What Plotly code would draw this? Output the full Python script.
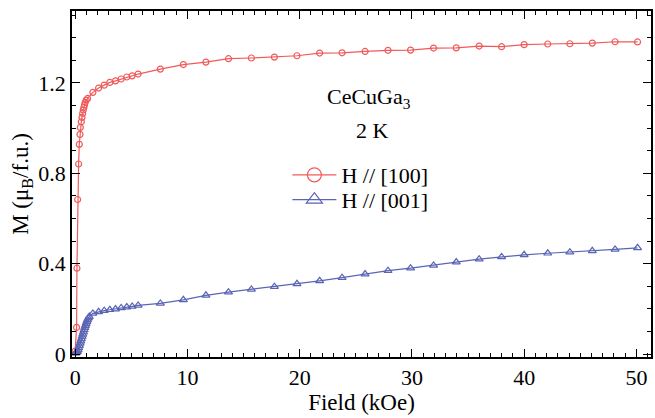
import plotly.graph_objects as go

# H // [100] (red circles)
field_100 = [0.0, 0.13, 0.16, 0.22, 0.31, 0.37, 0.43, 0.46, 0.55, 0.61, 0.67, 0.72, 0.78, 0.84,
             0.90, 0.99, 1.11, 1.58, 2.09, 2.59, 3.09, 3.60, 4.10, 4.60, 5.08, 5.61, 7.59,
             9.64, 11.65, 13.66, 15.70, 17.75, 19.76, 21.78, 23.78, 25.83, 27.87, 29.88,
             31.93, 33.95, 35.99, 37.99, 40.00, 42.10, 44.07, 46.07, 48.10, 50.10]
m_100 = [0.013, 0.118, 0.380, 0.684, 0.841, 0.928, 0.972, 1.003, 1.028, 1.047, 1.065, 1.080,
         1.092, 1.103, 1.114, 1.124, 1.131, 1.158, 1.177, 1.190, 1.202, 1.209, 1.217, 1.226,
         1.231, 1.239, 1.261, 1.281, 1.292, 1.307, 1.310, 1.314, 1.320, 1.332, 1.333, 1.339,
         1.344, 1.345, 1.354, 1.355, 1.363, 1.360, 1.369, 1.372, 1.373, 1.376, 1.382, 1.381]

# H // [001] (blue triangles)
field_001 = [0.02, 0.08, 0.14, 0.20, 0.26, 0.32, 0.38, 0.44, 0.50, 0.56, 0.62, 0.68, 0.74,
             0.80, 0.86, 0.92, 0.98, 1.04, 1.10, 1.18, 1.26, 1.58, 2.09, 2.59, 3.09, 3.60,
             4.10, 4.60, 5.08, 5.61, 7.59, 9.64, 11.65, 13.66, 15.70, 17.75, 19.76, 21.78,
             23.78, 25.83, 27.87, 29.88, 31.93, 33.95, 35.99, 37.99, 40.00, 42.10, 44.07,
             46.07, 48.10, 50.10]
m_001 = [0.004, 0.005, 0.007, 0.011, 0.018, 0.027, 0.037, 0.047, 0.057, 0.067, 0.077, 0.087,
         0.097, 0.107, 0.117, 0.126, 0.135, 0.143, 0.151, 0.159, 0.166, 0.180, 0.187, 0.192,
         0.196, 0.199, 0.204, 0.208, 0.211, 0.215, 0.224, 0.240, 0.260, 0.274, 0.286, 0.298,
         0.311, 0.324, 0.338, 0.354, 0.369, 0.380, 0.392, 0.407, 0.420, 0.430, 0.439, 0.446,
         0.451, 0.457, 0.463, 0.470]

x_ticks = [0, 10, 20, 30, 40, 50]
y_ticks = [0, 0.4, 0.8, 1.2]
y_tick_labels = ["0", "0.4", "0.8", "1.2"]

RED = "#f05a5a"
BLUE = "#5a64b4"
FONT = "Liberation Serif"
FS = 22
FT = 23

fig = go.Figure()
fig.add_trace(go.Scatter(x=field_100, y=m_100, mode="lines+markers", showlegend=False,
                         line=dict(color=RED, width=1.2),
                         marker=dict(symbol="circle-open", size=6, color=RED, line=dict(width=1.2))))
fig.add_trace(go.Scatter(x=field_001, y=m_001, mode="lines+markers", showlegend=False,
                         line=dict(color=BLUE, width=1.2),
                         marker=dict(symbol="triangle-up-open", size=7, color=BLUE, line=dict(width=1.2))))
# legend entries
fig.add_trace(go.Scatter(x=[None], y=[None], mode="lines+markers", name="H // [100]",
                         legend="legend",
                         line=dict(color=RED, width=1.2),
                         marker=dict(symbol="circle-open", size=14, color=RED, line=dict(width=1.2))))
fig.add_trace(go.Scatter(x=[None], y=[None], mode="lines+markers", name="H // [001]",
                         legend="legend2",
                         line=dict(color=BLUE, width=1.2),
                         marker=dict(symbol="triangle-up-open", size=14, color=BLUE, line=dict(width=1.2))))

axis_common = dict(showline=True, linecolor="black", linewidth=1.5, mirror="ticks",
                   ticks="inside", ticklen=8, tickwidth=1.2, tickcolor="black",
                   showgrid=False, zeroline=False,
                   tickfont=dict(family=FONT, size=FS, color="black"))

fig.update_xaxes(range=[-0.28, 51.3], tickvals=x_ticks,
                 minor=dict(dtick=1, ticks="inside", ticklen=4, tickwidth=1, tickcolor="black"),
                 title=dict(text="Field (kOe)", font=dict(family=FONT, size=FT, color="black"), standoff=5),
                 **axis_common)
fig.update_yaxes(range=[-0.013, 1.518], tickvals=y_ticks, ticktext=y_tick_labels,
                 minor=dict(dtick=0.1, tick0=0, ticks="inside", ticklen=4, tickwidth=1, tickcolor="black"),
                 title=dict(text="M (μ<sub>B</sub>/f.u.)", font=dict(family=FONT, size=FT, color="black"), standoff=3),
                 **axis_common)

fig.add_annotation(x=26.2, y=1.133, text="CeCuGa<sub>3</sub>", showarrow=False,
                   font=dict(family=FONT, size=FS, color="black"))
fig.add_annotation(x=26.5, y=0.991, text="2 K", showarrow=False,
                   font=dict(family=FONT, size=FS, color="black"))

leg_common = dict(x=0.372, xanchor="left", yanchor="middle",
                  bgcolor="rgba(0,0,0,0)", borderwidth=0, itemwidth=44,
                  font=dict(family=FONT, size=FS, color="black"))

fig.update_layout(width=655, height=418, margin=dict(l=72, r=2, t=11, b=61),
                  paper_bgcolor="white", plot_bgcolor="white",
                  legend=dict(y=0.526, **leg_common),
                  legend2=dict(y=0.454, **leg_common))

fig.write_html("out.html")
